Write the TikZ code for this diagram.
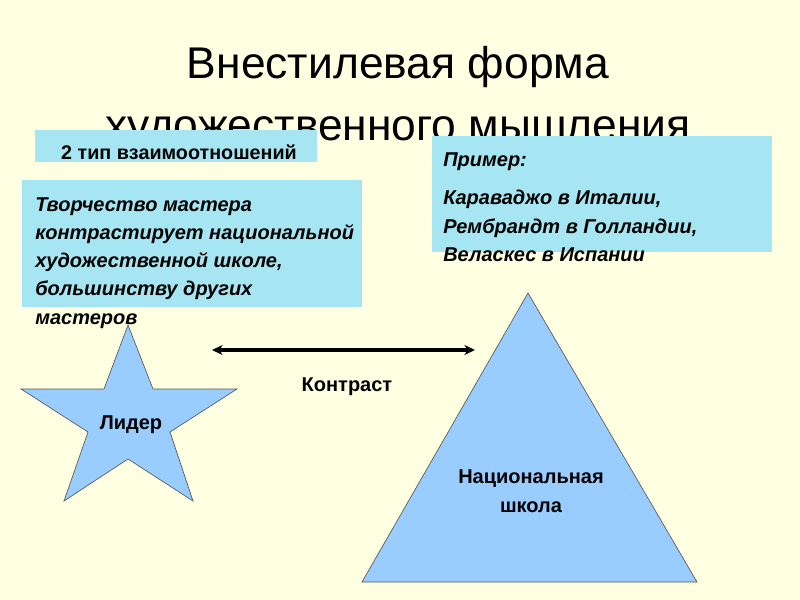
\documentclass[tikz,border=0pt]{standalone}
\usepackage{fontspec}
\setmainfont{Liberation Sans}
\usetikzlibrary{positioning, arrows.meta, fit}

\definecolor{slidebg}{RGB}{255,255,225}
\definecolor{boxcyan}{RGB}{166,230,242}
\definecolor{shapeblue}{RGB}{153,204,255}

\begin{document}
\begin{tikzpicture}[
                x=0.75pt, y=-0.75pt,
                >=Stealth,
                titletext/.style={align=center, inner sep=0pt, font=\fontsize{33.3}{46.5}\selectfont},
                infobox/.style={rectangle, fill=boxcyan, inner sep=0pt},
                boxtext/.style={align=left, inner sep=0pt, anchor=north west, font=\bfseries\itshape\fontsize{15}{21.2}\selectfont},
                typetext/.style={inner sep=0pt, anchor=base, font=\bfseries\fontsize{14.8}{17}\selectfont},
                shapefill/.style={fill=shapeblue, draw=black!65, line width=0.5pt, line join=miter},
                shapelabel/.style={align=center, inner sep=0pt, font=\bfseries\fontsize{15}{21.5}\selectfont},
                arrow/.style={<->, line width=2.3pt, >={Stealth[length=8pt, width=7.5pt]}}
            ]

            % Backgrounds
            \fill[slidebg] (0,0) rectangle (800,600);
            \useasboundingbox (0,0) rectangle (800,600);

            % Title
            \node[titletext, anchor=north] (title) at (398,46) {Внестилевая форма\\художественного мышления};

            % Shapes
            \draw[shapefill] (128,325) -- (153,389) -- (237,389) -- (170,432) -- (193,501)
                -- (128,459) -- (64,501) -- (88,432) -- (21,389) -- (104,389) -- cycle;
            \node[shapelabel] (leader) at (131,425) {Лидер};

            \draw[shapefill] (528,293) -- (697,582) -- (362,582) -- cycle;
            \node[shapelabel] (school) at (531,491) {Национальная\\школа};

            % Boxes
            \node[infobox, fit={(35,130)(317,162)}] (typebox) {};
            \node[typetext] (typelabel) at (179,159) {2 тип взаимоотношений};

            \node[infobox, fit={(22,180)(362,307)}] (leadbox) {};
            \node[boxtext] (leadtext) at (35,197) {Творчество мастера\\контрастирует национальной\\художественной школе,\\большинству других\\мастеров};

            \node[infobox, fit={(432,136)(772,252)}] (examplebox) {};
            \node[boxtext] (exampletext) at (443,152) {Пример:\\[8pt]Караваджо в Италии,\\Рембрандт в Голландии,\\Веласкес в Испании};

            % Contrast
            \coordinate (leftend) at (212,350);
            \coordinate (rightend) at (475,350);
            \draw[arrow] (leftend) -- (rightend);
            \node[shapelabel] (contrast) at (347,387) {Контраст};

        \end{tikzpicture}
\end{document}
